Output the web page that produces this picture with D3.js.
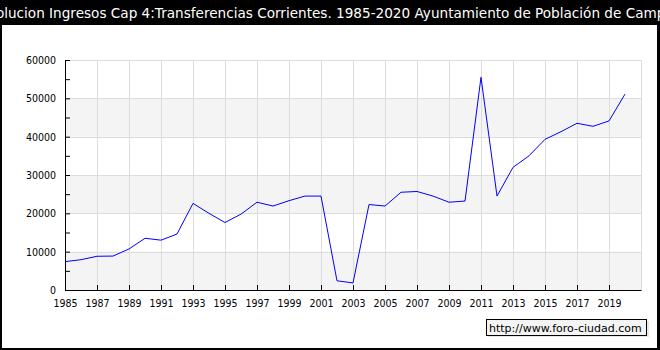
<!DOCTYPE html>
<html>
<head>
<meta charset="utf-8">
<script src="https://cdn.jsdelivr.net/npm/d3@7"></script>
<style>
  body { margin: 0; background: #000; }
  svg { display: block; }
</style>
</head>
<body>
<div id="chart"></div>
<script>
// Data
var years = [1985, 1986, 1987, 1988, 1989, 1990, 1991, 1992, 1993, 1994, 1995, 1996,
  1997, 1998, 1999, 2000, 2001, 2002, 2003, 2004, 2005, 2006, 2007, 2008,
  2009, 2010, 2011, 2012, 2013, 2014, 2015, 2016, 2017, 2018, 2019, 2020];
var values = [7400, 7900, 8800, 8850, 10700, 13500, 13000, 14600, 22600, 20000, 17600, 19800,
  22900, 21900, 23300, 24500, 24500, 2400, 1850, 22300, 21900, 25500, 25700, 24500,
  22900, 23200, 55500, 24500, 32000, 35000, 39300, 41300, 43500, 42700, 44100, 51100];
var yTicks = [0, 10000, 20000, 30000, 40000, 50000, 60000];
var xTicks = [1985, 1987, 1989, 1991, 1993, 1995, 1997, 1999, 2001, 2003,
  2005, 2007, 2009, 2011, 2013, 2015, 2017, 2019];
var title = "Evolucion Ingresos Cap 4:Transferencias Corrientes. 1985-2020 Ayuntamiento de Población de Campos";
var watermark = "http://www.foro-ciudad.com";

var svgWidth = 660;
var svgHeight = 350;

var chartMargin = { top: 60, right: 19, bottom: 60, left: 65 };
var chartWidth = svgWidth - chartMargin.left - chartMargin.right;
var chartHeight = svgHeight - chartMargin.top - chartMargin.bottom;

var svg = d3.select("#chart")
  .append("svg")
  .attr("width", svgWidth)
  .attr("height", svgHeight);

// black frame with white panel
svg.append("rect")
  .attr("width", svgWidth).attr("height", svgHeight)
  .attr("fill", "#000");
svg.append("rect")
  .attr("x", 2).attr("y", 25)
  .attr("width", 655).attr("height", 323)
  .attr("fill", "#fff");

svg.append("text")
  .attr("x", svgWidth / 2)
  .attr("y", 18)
  .attr("text-anchor", "middle")
  .attr("fill", "#fff")
  .style("font-family", "DejaVu Sans")
  .style("font-size", "13.6px")
  .text(title);

var chartGroup = svg.append("g")
  .attr("transform", `translate(${chartMargin.left}, ${chartMargin.top})`);

var x = d3.scaleLinear().domain([1985, 2021]).range([0, chartWidth]);
var y = d3.scaleLinear().domain([0, 60000]).range([chartHeight, 0]);

// alternating bands
var bands = yTicks.slice(0, -1).filter((d, i) => i % 2 === 0);
chartGroup.selectAll(".band")
  .data(bands)
  .enter()
  .append("rect")
  .attr("x", 0)
  .attr("y", d => y(d + 10000))
  .attr("width", chartWidth)
  .attr("height", d => y(d) - y(d + 10000))
  .attr("fill", "#f4f4f4");

// grid lines
chartGroup.selectAll(".hgrid")
  .data(yTicks.slice(1))
  .enter()
  .append("line")
  .attr("x1", 0).attr("x2", chartWidth)
  .attr("y1", d => Math.round(y(d)) + 0.5)
  .attr("y2", d => Math.round(y(d)) + 0.5)
  .attr("stroke", "#dcdcdc");

chartGroup.selectAll(".vgrid")
  .data(xTicks.slice(1).concat([2021]))
  .enter()
  .append("line")
  .attr("x1", d => Math.round(x(d)) + 0.5)
  .attr("x2", d => Math.round(x(d)) + 0.5)
  .attr("y1", 0).attr("y2", chartHeight)
  .attr("stroke", "#dcdcdc");

// axes
var xAxis = d3.axisBottom(x).tickValues(xTicks).tickFormat(d3.format("d"))
  .tickSizeInner(-5).tickSizeOuter(0).tickPadding(10);
var yAxis = d3.axisLeft(y).tickValues(d3.range(0, 60001, 5000))
  .tickFormat(d => d % 10000 === 0 ? d : "")
  .tickSizeInner(-5).tickSizeOuter(0).tickPadding(9);

var gx = chartGroup.append("g")
  .attr("transform", `translate(0, ${chartHeight})`)
  .call(xAxis);
var gy = chartGroup.append("g").call(yAxis);

[gx, gy].forEach(function(g) {
  g.selectAll("text")
    .style("font-family", "DejaVu Sans Condensed")
    .style("font-size", "10.5px")
    .attr("fill", "#000");
  g.selectAll("line").attr("stroke", "#000");
  g.select(".domain").attr("stroke", "#000");
});

// line
var line = d3.line()
  .x((d, i) => x(years[i]))
  .y(d => y(d));

chartGroup.append("path")
  .datum(values)
  .attr("d", line)
  .attr("fill", "none")
  .attr("stroke", "#0000ff")
  .attr("stroke-width", 1);

// watermark box
var wm = svg.append("g").attr("transform", "translate(486, 319)");
wm.append("rect")
  .attr("x", 2).attr("y", 2)
  .attr("width", 161).attr("height", 16)
  .attr("fill", "#e8e8e8");
wm.append("rect")
  .attr("x", 0.5).attr("y", 0.5)
  .attr("width", 160).attr("height", 16)
  .attr("fill", "#f4f4f4")
  .attr("stroke", "#000");
wm.append("text")
  .attr("x", 3).attr("y", 12.5)
  .style("font-family", "DejaVu Sans")
  .style("font-size", "11px")
  .attr("fill", "#000")
  .text(watermark);
</script>
</body>
</html>
